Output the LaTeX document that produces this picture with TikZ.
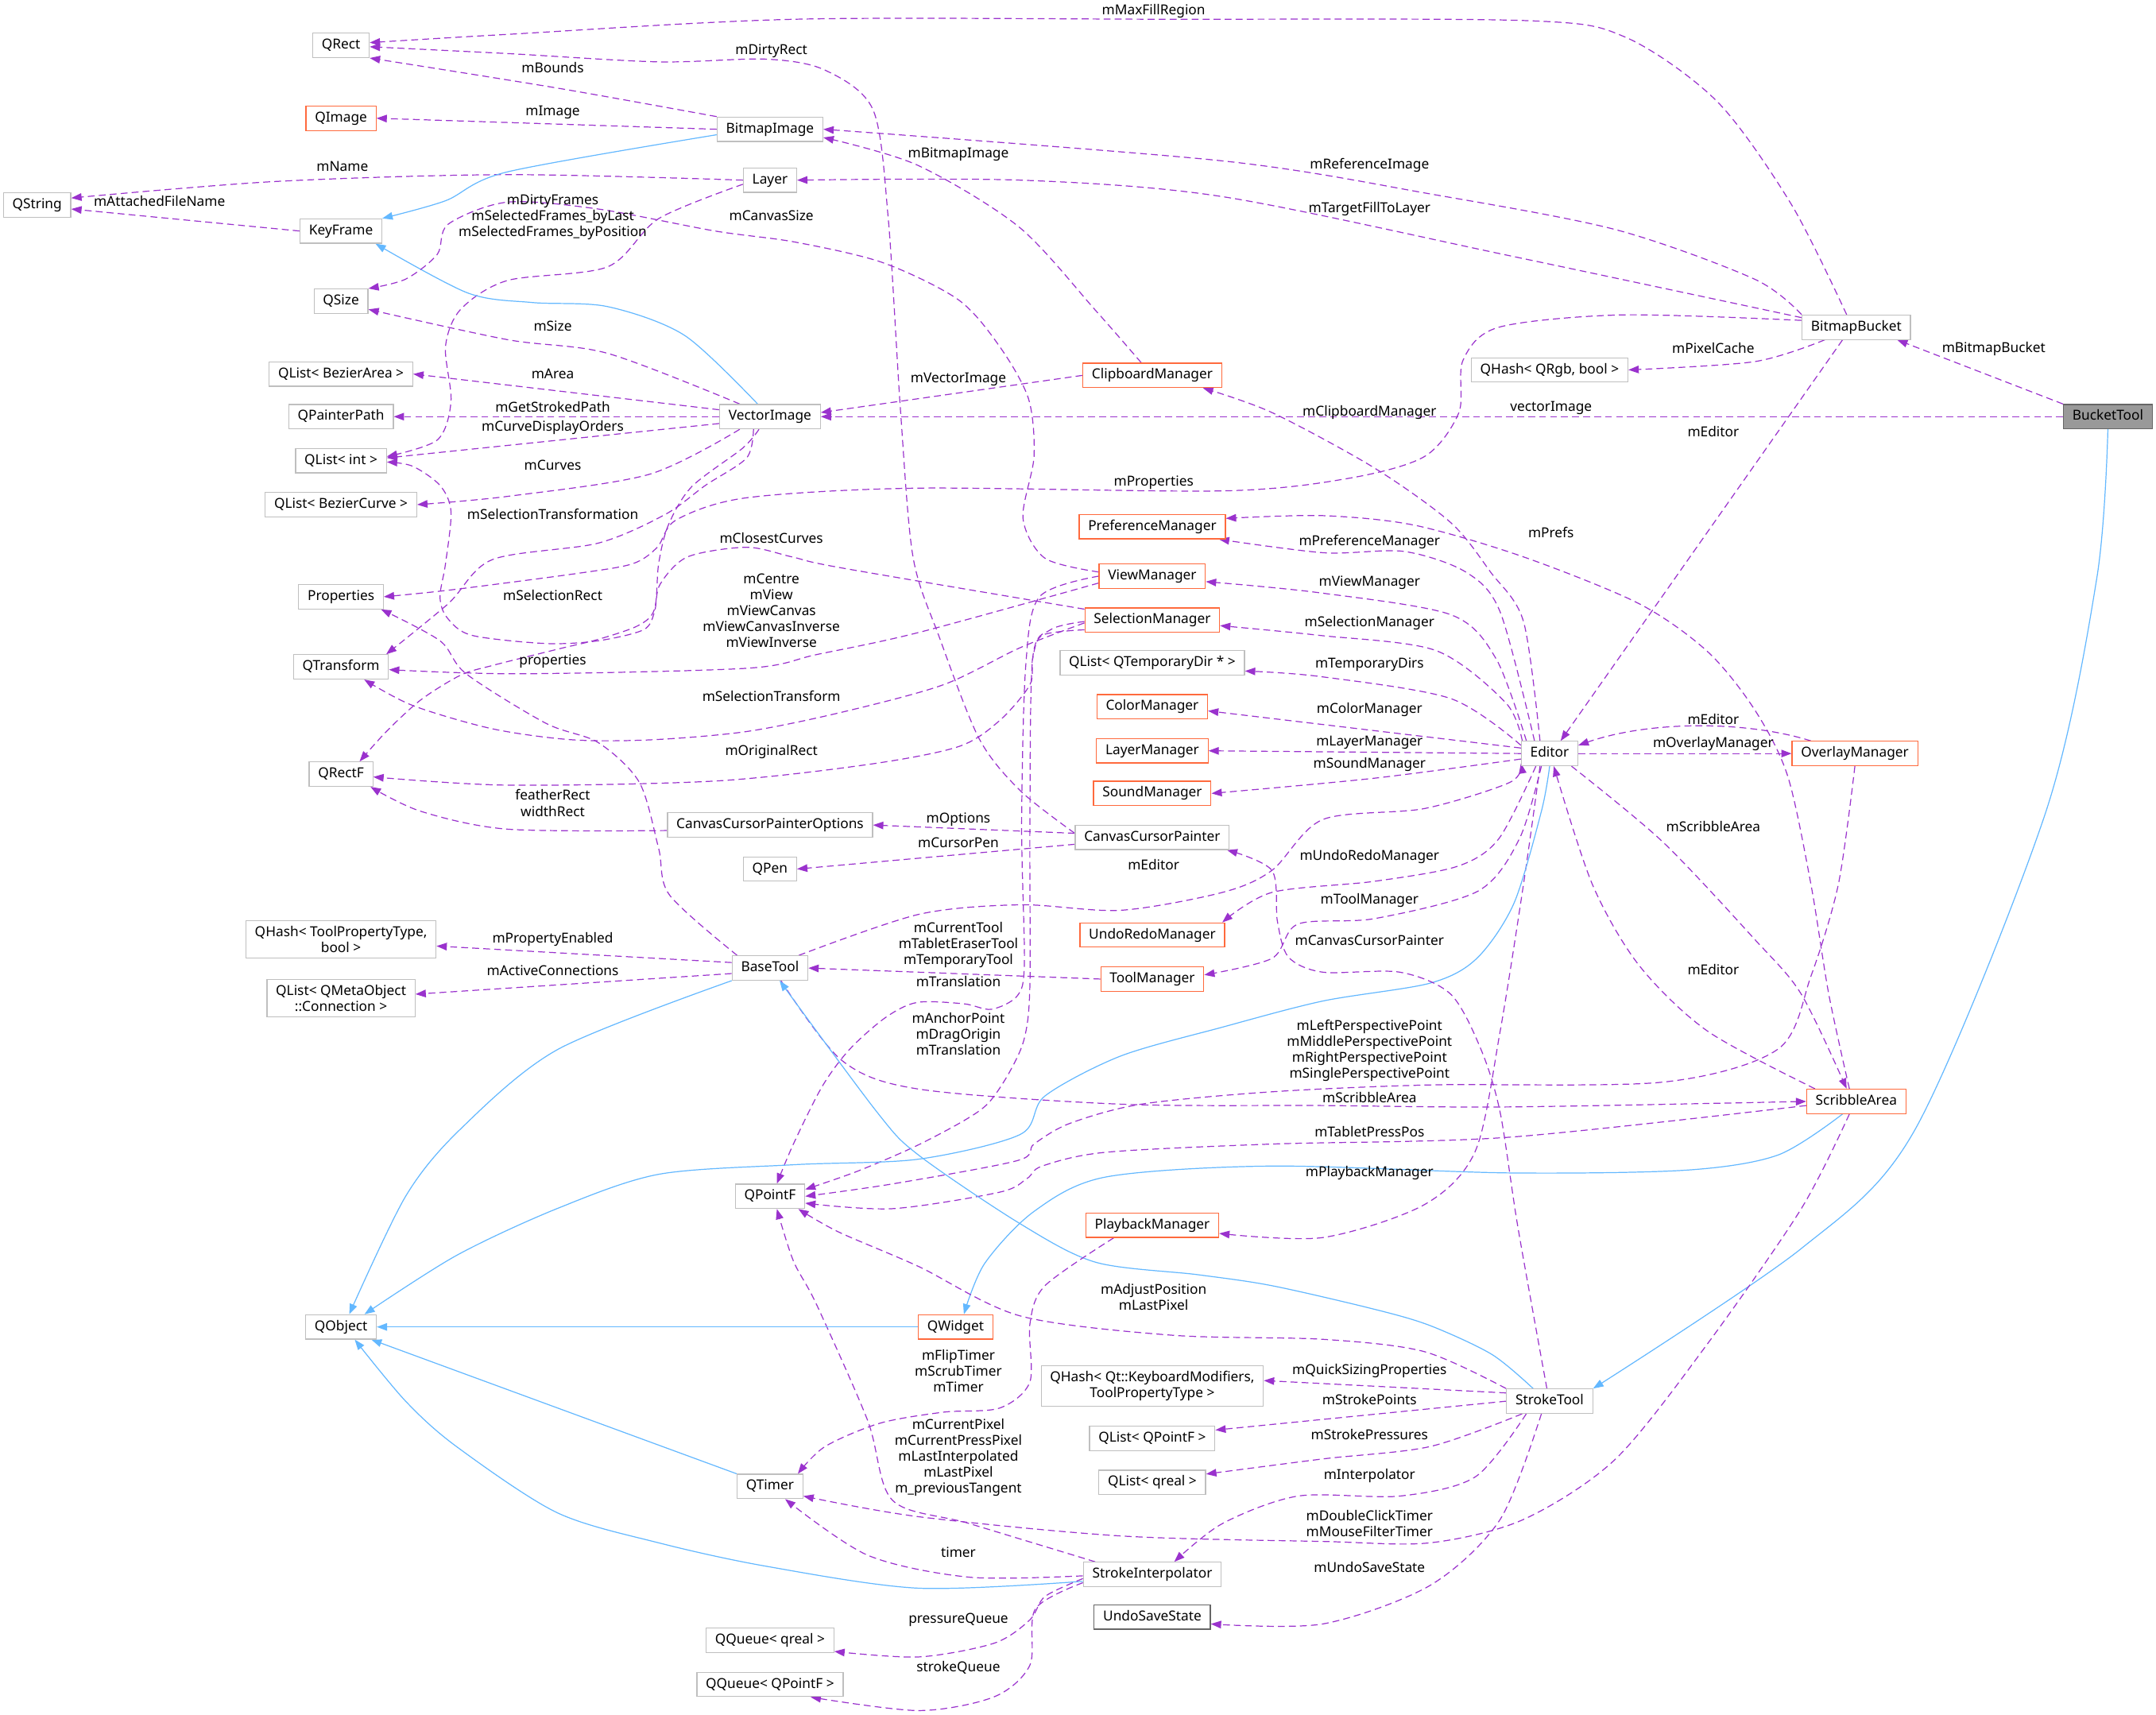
\documentclass[tikz,border=0pt]{standalone}
\usepackage{fontspec}
\setmainfont{Noto Sans}
\usepackage{xcolor}
\usetikzlibrary{arrows.meta, backgrounds}
\definecolor{memdraw}{HTML}{9A32CD}
\definecolor{inhdraw}{HTML}{63B8FF}
\definecolor{boxdraw}{HTML}{BFBFBF}
\definecolor{cutdraw}{HTML}{FF6A3D}
\definecolor{focfill}{HTML}{999999}
\definecolor{focdraw}{HTML}{666666}
\tikzset{
  cls/.style={rectangle, draw=boxdraw, fill=white, line width=0.7pt, font=\fontsize{10}{11.6}\selectfont, inner xsep=6.5pt, inner ysep=4.2pt, text height=7.3pt, text depth=2pt},
  cls2/.style={rectangle, draw=boxdraw, fill=white, line width=0.7pt, font=\fontsize{10}{11.6}\selectfont, inner xsep=6.5pt, inner ysep=4pt, align=center},
  cut/.style={cls, draw=cutdraw},
  foc/.style={cls, draw=focdraw, fill=focfill},
  undoc/.style={cls, draw=focdraw},
  lab/.style={font=\fontsize{10}{11.6}\selectfont, inner sep=0pt, align=center},
  memb/.style={-{Triangle[length=7.5pt,width=5.5pt]}, draw=memdraw, line width=0.7pt, dash pattern=on 5pt off 3pt},
  inher/.style={-{Triangle[length=7.5pt,width=5.5pt]}, draw=inhdraw, line width=0.7pt},
}

\begin{document}
\begin{tikzpicture}[x=1pt, y=-1pt]
  \useasboundingbox (0,0) rectangle (1568,1247);
  % column 1
  \node[cls] (qrect) at (248,33) {QRect};
  \node[cut] (qimage) at (248,86) {QImage};
  \node[cls] (qstring) at (27,149) {QString};
  \node[cls] (keyframe) at (248,168) {KeyFrame};
  \node[cls] (qsize) at (248,219) {QSize};
  \node[cls] (qlistarea) at (248,272) {QList< BezierArea >};
  \node[cls] (qpainterpath) at (248,303) {QPainterPath};
  \node[cls] (qlistint) at (248,335) {QList< int >};
  \node[cls] (qlistcurve) at (248,367) {QList< BezierCurve >};
  \node[cls] (properties) at (248,434) {Properties};
  \node[cls] (qtransform) at (248,485) {QTransform};
  \node[cls] (qrectf) at (248,563) {QRectF};
  \node[cls2] (qhashtool) at (248,683) {QHash< ToolPropertyType,\\bool >};
  \node[cls2] (qlistconn) at (248,726) {QList< QMetaObject\\::Connection >};
  \node[cls] (qobject) at (248,965) {QObject};
  % column 2
  \node[cls] (bitmapimage) at (560,94) {BitmapImage};
  \node[cls] (layer) at (560,131) {Layer};
  \node[cls] (vectorimage) at (560,303) {VectorImage};
  \node[cls] (ccpoptions) at (560,600) {CanvasCursorPainterOptions};
  \node[cls] (qpen) at (560,632) {QPen};
  \node[cls] (basetool) at (560,704) {BaseTool};
  \node[cls] (qpointf) at (560,870) {QPointF};
  \node[cls] (qtimer) at (560,1081) {QTimer};
  \node[cls] (qqueuereal) at (560,1193) {QQueue< qreal >};
  \node[cls] (qqueuepoint) at (560,1225) {QQueue< QPointF >};
  % column 3
  \node[cut] (clipboard) at (838,273) {ClipboardManager};
  \node[cut] (prefmgr) at (838,383) {PreferenceManager};
  \node[cut] (viewmgr) at (838,419) {ViewManager};
  \node[cut] (selmgr) at (838,451) {SelectionManager};
  \node[cls] (qlisttmp) at (838,482) {QList< QTemporaryDir * >};
  \node[cut] (colormgr) at (838,514) {ColorManager};
  \node[cut] (layermgr) at (838,546) {LayerManager};
  \node[cut] (soundmgr) at (838,577) {SoundManager};
  \node[cls] (ccpainter) at (838,609) {CanvasCursorPainter};
  \node[cut] (undoredo) at (838,680) {UndoRedoManager};
  \node[cut] (toolmgr) at (838,712) {ToolManager};
  \node[cut] (playback) at (838,891) {PlaybackManager};
  \node[cut] (qwidget) at (695,965) {QWidget};
  \node[cls2] (qhashkey) at (838,1008) {QHash< Qt::KeyboardModifiers,\\ToolPropertyType >};
  \node[cls] (qlistpointf) at (838,1046) {QList< QPointF >};
  \node[cls] (qlistreal) at (838,1078) {QList< qreal >};
  \node[cls] (interp) at (838,1145) {StrokeInterpolator};
  \node[undoc] (undosave) at (838,1176) {UndoSaveState};
  % columns 4 to 6
  \node[cls] (qhashrgb) at (1127,269) {QHash< QRgb, bool >};
  \node[cls] (editor) at (1127,548) {Editor};
  \node[cls] (stroketool) at (1127,1019) {StrokeTool};
  \node[cls] (bitmapbucket) at (1350,238) {BitmapBucket};
  \node[cut] (overlay) at (1349,548) {OverlayManager};
  \node[cut] (scribble) at (1350,801) {ScribbleArea};
  \node[foc] (buckettool) at (1533,303) {BucketTool};

  \begin{scope}[on background layer]
  \fill[white] (0,0) rectangle (1568,1247);
  % BucketTool
  \draw[memb] (buckettool.north west) -- ([xshift=-10pt]bitmapbucket.south east);
  \draw[memb] (buckettool.west) -- (vectorimage.east);
  \draw[inher] plot[smooth] coordinates {(buckettool.south) (1525,420) (1488,590) (1393,821) (1310,908) (stroketool.north east)};
  % BitmapBucket
  \draw[memb] plot[smooth] coordinates {([xshift=-7pt]bitmapbucket.north) (1303,149) (1249,74) (1182,27) (1110,15) (845,14) (578,14) (369,25) ([yshift=2pt]qrect.east)};
  \draw[memb] plot[smooth] coordinates {(bitmapbucket.north west) (1276,203) (1175,167) (1040,141) (889,117) (bitmapimage.east)};
  \draw[memb] plot[smooth] coordinates {([yshift=7pt]bitmapbucket.west) (1098,186) (889,143) (742,131) (layer.east)};
  \draw[memb] plot[smooth] coordinates {([xshift=-23pt]bitmapbucket.south) (1276,263) (qhashrgb.east)};
  \draw[memb] ([xshift=-10pt]bitmapbucket.south) -- ([xshift=8pt]editor.north);
  \draw[memb] plot[smooth] coordinates {([yshift=5pt]bitmapbucket.west) (1180,229) (1090,238) (1064,262) (1061,300) (1036,332) (980,348) (889,357) (667,355) (543,362) (492,378) (478,398) (460,410) (420,417) (328,429) (properties.east)};
  % Layer and KeyFrame
  \draw[memb] plot[smooth] coordinates {(layer.west) (369,127) (200,132) ([yshift=5pt]qstring.east)};
  \draw[memb] (keyframe.west) -- ([yshift=-3pt]qstring.east);
  \draw[memb] plot[smooth] coordinates {([yshift=-3pt]layer.west) (479,159) (442,194) (369,204) (335,225) (324,252) (328,292) (318,320) ([yshift=3pt]qlistint.east)};
  \draw[inher] plot[smooth] coordinates {([yshift=-4pt]bitmapimage.west) (369,125) (324,146) (keyframe.north east)};
  % BitmapImage
  \draw[memb] plot[smooth] coordinates {(bitmapimage.north west) (405,64) (qrect.south east)};
  \draw[memb] (bitmapimage.west) -- (qimage.east);
  % VectorImage
  \draw[inher] plot[smooth] coordinates {([xshift=-9pt]vectorimage.north) (498,244) (442,223) (387,220) (340,213) ([xshift=-5pt]keyframe.south east)};
  \draw[memb] plot[smooth] coordinates {([xshift=-22pt]vectorimage.north) (442,257) (369,247) ([yshift=-6pt]qsize.east)};
  \draw[memb] ([yshift=5pt]vectorimage.west) -- (qlistarea.east);
  \draw[memb] (vectorimage.west) -- (qpainterpath.east);
  \draw[memb] ([yshift=-5pt]vectorimage.west) -- ([yshift=2pt]qlistint.east);
  \draw[memb] plot[smooth] coordinates {([xshift=-22pt]vectorimage.south) (472,345) (369,361) (qlistcurve.east)};
  \draw[memb] plot[smooth] coordinates {([xshift=-12pt]vectorimage.south) (543,333) (513,353) (484,374) (435,395) (358,407) (326,439) ([xshift=-2pt]qtransform.north east)};
  \draw[memb] plot[smooth] coordinates {([xshift=-8pt]vectorimage.south) (540,326) (503,354) (486,382) (479,410) (476,443) (464,455) (435,465) (406,472) (358,484) (335,491) (306,509) (281,532) ([xshift=-10pt]qrectf.north east)};
  % ClipboardManager
  \draw[memb] plot[smooth] coordinates {([xshift=-8pt]clipboard.north) (797,226) (741,165) (667,120) ([yshift=-6pt]bitmapimage.east)};
  \draw[memb] (clipboard.west) -- ([yshift=3pt]vectorimage.east);
  % CanvasCursorPainter
  \draw[memb] plot[smooth] coordinates {([yshift=3pt]ccpainter.west) (742,575) (712,537) (683,463) (664,405) (655,300) (646,159) (635,80) (600,51) (557,43) (479,45) (370,39) ([yshift=-1pt]qrect.east)};
  \draw[memb] ([yshift=3pt]ccpainter.west) -- (ccpoptions.east);
  \draw[memb] ([yshift=-5pt]ccpainter.west) -- (qpen.east);
  \draw[memb] plot[smooth] coordinates {([yshift=-4pt]ccpoptions.west) (369,603) (306,590) ([xshift=-2pt]qrectf.south east)};
  % ViewManager
  \draw[memb] plot[smooth] coordinates {([yshift=3pt]viewmgr.west) (760,406) (744,377) (752,332) (748,290) (727,252) (697,218) (642,191) (578,176) (520,168) (435,152) (369,147) (326,163) (318,185) (295,203) (qsize.north east)};
  \draw[memb] plot[smooth] coordinates {([yshift=-5pt]viewmgr.west) (668,460) (594,476) (543,486) (377,490) ([yshift=-2pt]qtransform.east)};
  \draw[memb] plot[smooth] coordinates {(viewmgr.west) (756,434) (746,484) (743,600) (745,700) (740,724) (721,734) (701,730) (667,729) (644,740) (618,763) (598,790) (577,832) ([xshift=5pt]qpointf.north)};
  % SelectionManager
  \draw[memb] plot[smooth] coordinates {([yshift=-1pt]selmgr.west) (764,458) (751,479) (749,600) (749,717) (745,755) (734,780) (719,802) (701,815) (665,834) (623,852) ([yshift=5pt]qpointf.east)};
  \draw[memb] plot[smooth] coordinates {([yshift=-2pt]selmgr.west) (742,471) (686,498) (612,518) (543,532) (474,538) (416,538) (358,530) (300,513) ([xshift=-18pt]qtransform.south east)};
  \draw[memb] plot[smooth] coordinates {([yshift=-7pt]selmgr.west) (758,462) (751,479) (749,498) (727,524) (697,543) (631,556) (520,568) (369,571) ([yshift=-2pt]qrectf.east)};
  \draw[memb] plot[smooth] coordinates {([yshift=8pt]selmgr.west) (612,413) (576,405) (543,398) (500,405) (480,425) (476,445) (468,458) (435,466) (397,468) (343,462) (325,449) (320,434) (324,410) (328,372) (320,353) (300,339) ([yshift=-1pt]qlistint.east)};
  % Editor
  \draw[memb] plot[smooth] coordinates {([xshift=-7pt]editor.north) (1108,452) (1084,416) (1055,380) (999,340) (925,300) ([xshift=-14pt]clipboard.south east)};
  \draw[memb] plot[smooth] coordinates {([xshift=-11pt]editor.north) (1091,445) (1066,416) (1021,401) (963,402) ([xshift=-5pt]prefmgr.south east)};
  \draw[memb] plot[smooth] coordinates {([xshift=4pt]editor.north west) (1088,479) (1055,447) (959,431) ([yshift=-4pt]viewmgr.east)};
  \draw[memb] plot[smooth] coordinates {([xshift=1pt]editor.north west) (1095,511) (1044,473) (959,462) ([yshift=-4pt]selmgr.east)};
  \draw[memb] plot[smooth] coordinates {([yshift=6pt]editor.west) (1055,508) (960,492) ([yshift=-6pt]qlisttmp.east)};
  \draw[memb] ([yshift=4pt]editor.west) -- ([yshift=-3pt]colormgr.east);
  \draw[memb] (editor.west) -- (layermgr.east);
  \draw[memb] plot[smooth] coordinates {([yshift=-4pt]editor.west) (999,566) (soundmgr.east)};
  \draw[memb] plot[smooth] coordinates {([xshift=-10pt]editor.south) (1090,610) (1060,630) (999,641) (925,649) ([xshift=-2pt]undoredo.north east)};
  \draw[memb] plot[smooth] coordinates {([xshift=-6pt]editor.south) (1105,610) (1075,648) (1000,668) (944,672) (925,697) ([yshift=3pt]toolmgr.east)};
  \draw[memb] plot[smooth] coordinates {([xshift=-7pt]editor.south) (1108,643) (1091,750) (1073,837) (1036,876) (962,900) ([yshift=-6pt]playback.east)};
  \draw[memb] (editor.east) -- (overlay.west);
  \draw[memb] ([xshift=-32pt]overlay.north) .. controls (1270,524) and (1200,524) .. ([yshift=6pt]editor.east);
  \draw[memb] plot[smooth] coordinates {([xshift=-5pt]editor.south east) (1209,612) (1276,683) (1310,723) ([xshift=-7pt]scribble.north)};
  \draw[inher] plot[smooth] coordinates {(editor.south) (1121,590) (1101,657) (1074,697) (1040,715) (962,728) (889,747) (815,768) (760,797) (742,825) (668,843) (578,847) (479,854) (405,879) (332,913) ([xshift=-9pt]qobject.north east)};
  % OverlayManager
  \draw[memb] plot[smooth] coordinates {(overlay.south) (1337,643) (1317,710) (1293,763) (1209,787) (1040,789) (925,794) (830,803) (778,817) (752,832) (740,844) (649,861) (qpointf.east)};
  % ScribbleArea
  \draw[memb] plot[smooth] coordinates {([xshift=-5pt]scribble.north) (1330,723) (1317,643) (1300,564) (1276,516) (1242,474) (1192,439) (1108,405) (1029,382) (962,375) ([yshift=6pt]prefmgr.east)};
  \draw[memb] plot[smooth] coordinates {([xshift=-30pt]scribble.north) (1242,750) (1192,702) (1158,643) ([xshift=3pt]editor.south)};
  \draw[memb] plot[smooth] coordinates {([yshift=-3pt]scribble.west) (1098,827) (925,832) (804,838) (758,848) (747,857) (727,867) (649,879) ([yshift=-5pt]qpointf.east)};
  \draw[inher] plot[smooth] coordinates {([xshift=-10pt]scribble.south) (1293,840) (1226,851) (1098,853) (925,848) (804,856) (752,881) (716,919) ([xshift=6pt]qwidget.north)};
  \draw[memb] plot[smooth] coordinates {([xshift=-5pt]scribble.south) (1310,879) (1242,977) (1175,1061) (1108,1105) (1040,1122) (962,1121) (815,1117) (668,1103) ([yshift=-7pt]qtimer.east)};
  % BaseTool
  \draw[memb] plot[smooth] coordinates {([xshift=-7pt]basetool.north east) (668,665) (742,658) (815,662) (889,649) (925,633) (962,596) (1036,588) (1098,569) ([yshift=-7pt]editor.west)};
  \draw[memb] plot[smooth] coordinates {([xshift=8pt]basetool.south) (612,771) (668,792) (815,803) (962,804) (1098,805) (scribble.west)};
  \draw[memb] ([yshift=4pt]basetool.west) -- ([yshift=-5pt]qhashtool.east);
  \draw[memb] ([yshift=-4pt]basetool.west) -- ([yshift=3pt]qlistconn.east);
  \draw[memb] plot[smooth] coordinates {([xshift=4pt]basetool.north west) (487,651) (479,617) (465,569) (435,540) (397,526) (339,490) (320,466) ([xshift=-2pt]properties.south east)};
  \draw[inher] plot[smooth] coordinates {(basetool.south west) (406,763) (335,821) (295,870) ([xshift=6pt]qobject.north)};
  \draw[memb] (toolmgr.west) -- (basetool.east);
  % StrokeTool
  \draw[inher] plot[smooth] coordinates {([xshift=-12pt]stroketool.north) (1085,985) (1040,964) (999,952) (925,935) (871,927) (797,918) (742,890) (668,840) (638,809) ([xshift=7pt]basetool.south)};
  \draw[memb] plot[smooth] coordinates {([xshift=-2pt]stroketool.north) (1104,893) (1091,809) (1077,763) (1055,723) (1018,707) (962,707) (937,696) (929,670) (925,633) ([xshift=-2pt]ccpainter.south east)};
  \draw[memb] ([yshift=6pt]stroketool.west) -- ([yshift=4pt]qhashkey.east);
  \draw[memb] (stroketool.west) -- ([yshift=6pt]qlistpointf.east);
  \draw[memb] plot[smooth] coordinates {([xshift=-20pt]stroketool.south) (1040,1052) (962,1061) ([yshift=6pt]qlistreal.east)};
  \draw[memb] plot[smooth] coordinates {([xshift=-17pt]stroketool.south) (1073,1074) (1018,1088) (944,1088) (889,1108) ([xshift=16pt]interp.north)};
  \draw[memb] plot[smooth] coordinates {([xshift=-6pt]stroketool.south) (1091,1105) (1040,1153) (962,1181) ([yshift=-5pt]undosave.east)};
  \draw[memb] plot[smooth] coordinates {(stroketool.north west) (1036,983) (962,974) (852,971) (742,957) (668,921) (610,896) ([xshift=-5pt]qpointf.south east)};
  % StrokeInterpolator
  \draw[memb] plot[smooth] coordinates {([xshift=9pt]interp.north west) (705,1108) (649,1091) (631,1033) (594,949) (577,917) ([xshift=5pt]qpointf.south)};
  \draw[inher] plot[smooth] coordinates {([yshift=-5pt]interp.west) (668,1155) (557,1139) (479,1122) (405,1100) (332,1052) (295,1019) ([xshift=10pt]qobject.south)};
  \draw[memb] plot[smooth] coordinates {([yshift=-1pt]interp.west) (705,1147) (631,1131) ([xshift=11pt]qtimer.south)};
  \draw[memb] plot[smooth] coordinates {([yshift=-3pt]interp.west) (760,1161) (749,1178) (723,1195) (668,1205) ([yshift=-8pt]qqueuereal.east)};
  \draw[memb] plot[smooth] coordinates {([yshift=-6pt]interp.west) (753,1170) (749,1211) (723,1234) (668,1244) ([xshift=-24pt]qqueuepoint.south east)};
  % PlaybackManager
  \draw[memb] plot[smooth] coordinates {([xshift=-28pt]playback.south) (760,935) (749,963) (749,1005) (727,1024) (686,1027) (640,1035) (600,1052) ([xshift=-4pt]qtimer.north east)};
  % QObject bases
  \draw[inher] (qtimer.north west) -- ([xshift=-4pt]qobject.south east);
  \draw[inher] (qwidget.west) -- (qobject.east);
  \end{scope}

  % edge labels
  \node[lab] (lmaxfill) at (839,8) {mMaxFillRegion};
  \node[lab] (ldirtyrect) at (561,37) {mDirtyRect};
  \node[lab] (lbounds) at (402,49) {mBounds};
  \node[lab] (limage) at (402,82) {mImage};
  \node[lab] (lbitmapimage) at (697,112) {mBitmapImage};
  \node[lab] (lrefimage) at (996,120) {mReferenceImage};
  \node[lab] (lname) at (249,121) {mName};
  \node[lab] (lattached) at (116,146) {mAttachedFileName};
  \node[lab] (ldirtyframes) at (402,158) {mDirtyFrames\\mSelectedFrames\_byLast\\mSelectedFrames\_byPosition};
  \node[lab] (ltargetfill) at (996,152) {mTargetFillToLayer};
  \node[lab] (lcanvassize) at (561,157) {mCanvasSize};
  \node[lab] (lsize) at (402,237) {mSize};
  \node[lab] (lpixelcache) at (1246,253) {mPixelCache};
  \node[lab] (lbitmapbucket) at (1450,254) {mBitmapBucket};
  \node[lab] (larea) at (402,272) {mArea};
  \node[lab] (lvecimage) at (697,276) {mVectorImage};
  \node[lab] (lstroked) at (402,296) {mGetStrokedPath};
  \node[lab] (lvectorimage) at (1128,297) {vectorImage};
  \node[lab] (lclipboard) at (996,300) {mClipboardManager};
  \node[lab] (lorders) at (402,311) {mCurveDisplayOrders};
  \node[lab] (lbbeditor) at (1246,314) {mEditor};
  \node[lab] (lcurves) at (402,338) {mCurves};
  \node[lab] (lproperties) at (839,351) {mProperties};
  \node[lab] (lseltransformation) at (402,374) {mSelectionTransformation};
  \node[lab] (lprefs) at (1128,387) {mPrefs};
  \node[lab] (lclosest) at (561,391) {mClosestCurves};
  \node[lab] (lprefmgr) at (996,394) {mPreferenceManager};
  \node[lab] (lviewmgr) at (996,424) {mViewManager};
  \node[lab] (lselrect) at (402,433) {mSelectionRect};
  \node[lab] (lcentre) at (561,444) {mCentre\\mView\\mViewCanvas\\mViewCanvasInverse\\mViewInverse};
  \node[lab] (lselmgr) at (996,453) {mSelectionManager};
  \node[lab] (lprops) at (402,481) {properties};
  \node[lab] (ltmpdirs) at (996,483) {mTemporaryDirs};
  \node[lab] (lseltransform) at (561,506) {mSelectionTransform};
  \node[lab] (lcolormgr) at (996,516) {mColorManager};
  \node[lab] (lovleditor) at (1246,523) {mEditor};
  \node[lab] (llayermgr) at (996,540) {mLayerManager};
  \node[lab] (loverlay) at (1246,541) {mOverlayManager};
  \node[lab] (loriginal) at (561,547) {mOriginalRect};
  \node[lab] (lsoundmgr) at (996,556) {mSoundManager};
  \node[lab] (lfeather) at (402,584) {featherRect\\widthRect};
  \node[lab] (loptions) at (697,596) {mOptions};
  \node[lab] (lscribble) at (1246,601) {mScribbleArea};
  \node[lab] (lcursorpen) at (697,613) {mCursorPen};
  \node[lab] (lundoredo) at (996,623) {mUndoRedoManager};
  \node[lab] (lbteditor) at (839,629) {mEditor};
  \node[lab] (ltoolmgr) at (996,655) {mToolManager};
  \node[lab] (lpropenabled) at (402,683) {mPropertyEnabled};
  \node[lab] (lccpainter) at (996,684) {mCanvasCursorPainter};
  \node[lab] (lcurrenttool) at (697,687) {mCurrentTool\\mTabletEraserTool\\mTemporaryTool};
  \node[lab] (lsaeditor) at (1246,705) {mEditor};
  \node[lab] (lactive) at (402,706) {mActiveConnections};
  \node[lab] (ltranslation) at (697,714) {mTranslation};
  \node[lab] (lanchor) at (697,752) {mAnchorPoint\\mDragOrigin\\mTranslation};
  \node[lab] (lperspective) at (996,764) {mLeftPerspectivePoint\\mMiddlePerspectivePoint\\mRightPerspectivePoint\\mSinglePerspectivePoint};
  \node[lab] (lbtscribble) at (996,798) {mScribbleArea};
  \node[lab] (ltablet) at (996,823) {mTabletPressPos};
  \node[lab] (lplayback) at (996,853) {mPlaybackManager};
  \node[lab] (ladjust) at (839,943) {mAdjustPosition\\mLastPixel};
  \node[lab] (lfliptimer) at (697,997) {mFlipTimer\\mScrubTimer\\mTimer};
  \node[lab] (lquicksizing) at (996,997) {mQuickSizingProperties};
  \node[lab] (lstrokepoints) at (996,1018) {mStrokePoints};
  \node[lab] (lpressures) at (996,1043) {mStrokePressures};
  \node[lab] (lcurrentpixel) at (697,1060) {mCurrentPixel\\mCurrentPressPixel\\mLastInterpolated\\mLastPixel\\m\_previousTangent};
  \node[lab] (linterp) at (996,1073) {mInterpolator};
  \node[lab] (ldoubleclick) at (996,1108) {mDoubleClickTimer\\mMouseFilterTimer};
  \node[lab] (ltimer) at (697,1129) {timer};
  \node[lab] (lundosave) at (996,1140) {mUndoSaveState};
  \node[lab] (lpressureq) at (697,1178) {pressureQueue};
  \node[lab] (lstrokeq) at (697,1213) {strokeQueue};
\end{tikzpicture}
\end{document}
